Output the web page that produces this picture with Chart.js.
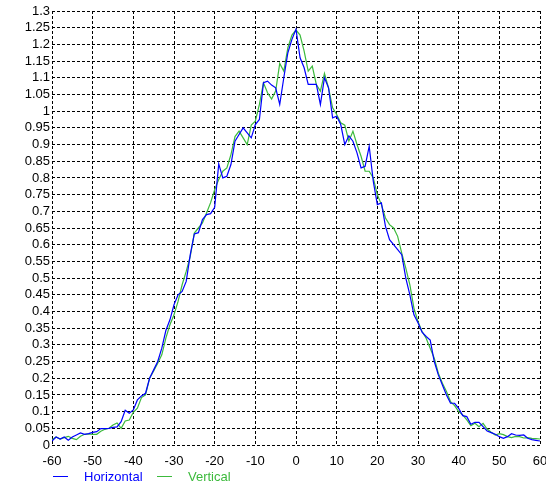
<!DOCTYPE html>
<html lang="en">
<head>
    <meta charset="UTF-8">
    <title>Beam profile</title>
    <script src="https://cdn.jsdelivr.net/npm/chart.js@4"></script>
    <style>
        html, body { margin: 0; padding: 0; background: #fff; }
        #wrap { width: 546px; height: 485px; }
    </style>
</head>
<body>
    <div id="wrap"><canvas id="profileChart" width="546" height="485"></canvas></div>

    <script>
        // sample positions: -60 .. 60, one per unit
        const xStart = -60;
        const xStep = 1;

        const horizontal = [
            0.012, 0.024, 0.018, 0.024, 0.014, 0.024, 0.030, 0.036, 0.032, 0.034,
            0.038, 0.040, 0.049, 0.049, 0.050, 0.053, 0.054, 0.070, 0.104, 0.095,
            0.105, 0.135, 0.147, 0.155, 0.200, 0.225, 0.250, 0.290, 0.343, 0.375,
            0.420, 0.450, 0.460, 0.490, 0.570, 0.632, 0.636, 0.675, 0.690, 0.693,
            0.712, 0.842, 0.800, 0.805, 0.840, 0.910, 0.930, 0.950, 0.935, 0.920,
            0.960, 0.975, 1.085, 1.090, 1.078, 1.070, 1.020, 1.100, 1.175, 1.215,
            1.245, 1.160, 1.130, 1.080, 1.080, 1.080, 1.020, 1.100, 1.070, 0.980,
            0.985, 0.960, 0.900, 0.926, 0.910, 0.875, 0.830, 0.835, 0.895, 0.790,
            0.720, 0.725, 0.655, 0.615, 0.600, 0.585, 0.570, 0.500, 0.450, 0.390,
            0.366, 0.338, 0.325, 0.314, 0.250, 0.210, 0.180, 0.150, 0.125, 0.125,
            0.110, 0.088, 0.085, 0.062, 0.068, 0.068, 0.055, 0.042, 0.037, 0.032,
            0.025, 0.020, 0.025, 0.034, 0.030, 0.029, 0.030, 0.020, 0.016, 0.014,
            0.012
        ];

        const vertical = [
            0.016, 0.024, 0.018, 0.022, 0.026, 0.020, 0.016, 0.026, 0.032, 0.033,
            0.032, 0.032, 0.041, 0.047, 0.050, 0.060, 0.066, 0.050, 0.072, 0.075,
            0.098, 0.110, 0.142, 0.150, 0.200, 0.222, 0.245, 0.270, 0.320, 0.360,
            0.390, 0.430, 0.480, 0.520, 0.565, 0.635, 0.650, 0.665, 0.695, 0.726,
            0.765, 0.795, 0.820, 0.830, 0.870, 0.924, 0.940, 0.920, 0.900, 0.958,
            0.970, 1.020, 1.085, 1.055, 1.036, 1.060, 1.143, 1.120, 1.190, 1.228,
            1.243, 1.228, 1.180, 1.120, 1.135, 1.080, 1.060, 1.113, 1.070, 1.010,
            0.990, 0.965, 0.958, 0.910, 0.940, 0.900, 0.865, 0.820, 0.820, 0.800,
            0.750, 0.720, 0.680, 0.660, 0.650, 0.625, 0.575, 0.530, 0.480, 0.410,
            0.370, 0.340, 0.320, 0.290, 0.260, 0.215, 0.185, 0.160, 0.130, 0.118,
            0.100, 0.090, 0.075, 0.058, 0.065, 0.055, 0.065, 0.048, 0.038, 0.030,
            0.034, 0.031, 0.025, 0.022, 0.026, 0.025, 0.021, 0.022, 0.020, 0.019,
            0.018
        ];

        const seriesNames = ['Horizontal', 'Vertical'];
        const seriesColors = ['#0000ff', '#3cba3c'];

        const xMin = -60, xMax = 60, xTickStep = 10;
        const yMin = 0, yMax = 1.3, yTickStep = 0.05;

        function toPoints(values) {
            return values.map((v, i) => ({ x: xStart + i * xStep, y: v }));
        }

        const fontFamily = '"Liberation Sans", Arial, sans-serif';
        const fontSize = 13;

        // legend under the x axis: short line then coloured name
        const bottomLegend = {
            id: 'bottomLegend',
            afterDraw(chart) {
                const ctx = chart.ctx;
                const left = chart.chartArea.left;
                const y = 476;
                ctx.save();
                ctx.font = fontSize + 'px ' + fontFamily;
                ctx.textBaseline = 'middle';
                chart.data.datasets.forEach((ds, i) => {
                    const x0 = left + i * 104;
                    ctx.strokeStyle = ds.borderColor;
                    ctx.lineWidth = 1;
                    ctx.beginPath();
                    ctx.moveTo(x0 + 1, y + 0.5);
                    ctx.lineTo(x0 + 16, y + 0.5);
                    ctx.stroke();
                    ctx.fillStyle = ds.borderColor;
                    ctx.fillText(ds.label, x0 + 32, y + 1);
                });
                ctx.restore();
            }
        };

        const gridOpts = { color: '#000', lineWidth: 1, drawTicks: false };
        const borderOpts = { display: false, dash: [3, 2] };

        new Chart(document.getElementById('profileChart'), {
            type: 'line',
            data: {
                datasets: [horizontal, vertical].map((vals, i) => ({
                    label: seriesNames[i],
                    data: toPoints(vals),
                    borderColor: seriesColors[i],
                    backgroundColor: seriesColors[i],
                    borderWidth: 1.2,
                    pointRadius: 0,
                    tension: 0,
                    fill: false
                }))
            },
            options: {
                responsive: false,
                animation: false,
                layout: { padding: { top: 11, right: 6, bottom: 0, left: 0 } },
                plugins: {
                    legend: { display: false },
                    tooltip: { enabled: false }
                },
                scales: {
                    x: {
                        type: 'linear',
                        min: xMin,
                        max: xMax,
                        grid: gridOpts,
                        border: borderOpts,
                        ticks: {
                            stepSize: xTickStep,
                            padding: 9,
                            color: '#000',
                            font: { family: fontFamily, size: fontSize },
                            maxRotation: 0,
                            autoSkip: false
                        },
                        afterFit(scale) {
                            scale.height = 40;
                            scale.paddingLeft = 0;
                            scale.paddingRight = 0;
                        }
                    },
                    y: {
                        min: yMin,
                        max: yMax,
                        grid: gridOpts,
                        border: borderOpts,
                        ticks: {
                            stepSize: yTickStep,
                            padding: 2,
                            color: '#000',
                            autoSkip: false,
                            font: { family: fontFamily, size: fontSize },
                            callback: v => String(Number(v.toFixed(2)))
                        },
                        afterFit(scale) {
                            scale.width = 52;
                            scale.paddingTop = 0;
                            scale.paddingBottom = 0;
                        }
                    }
                }
            },
            plugins: [bottomLegend]
        });
    </script>
</body>
</html>
